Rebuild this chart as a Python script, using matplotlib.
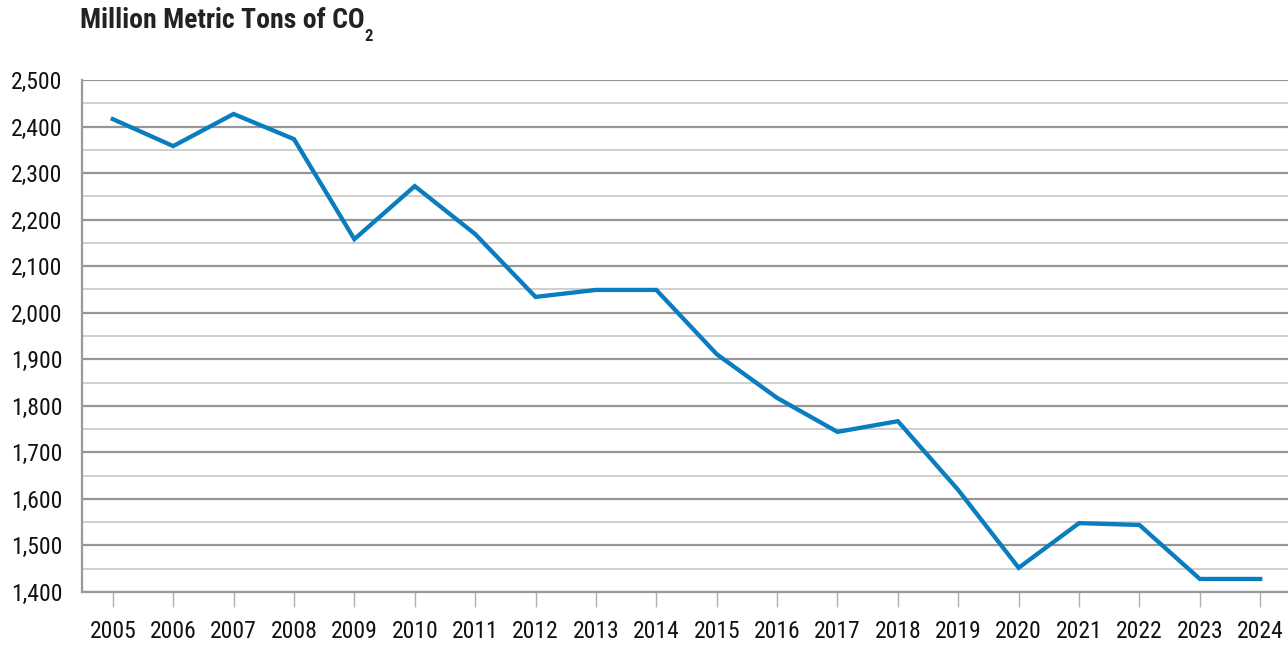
import matplotlib
matplotlib.use("Agg")
import matplotlib.pyplot as plt
from matplotlib.ticker import MultipleLocator, FuncFormatter

years = [str(y) for y in range(2005, 2025)]
emissions = [2416, 2358, 2427, 2373, 2158, 2272, 2169, 2034, 2049, 2049,
             1911, 1817, 1744, 1767, 1619, 1452, 1548, 1544, 1428, 1428]

fam = ['Roboto Condensed', 'Liberation Sans', 'DejaVu Sans']
plt.rcParams['font.family'] = fam

fig = plt.figure(figsize=(12.88, 6.49), dpi=100)
ax = fig.add_axes([82/1288, 1-592/649, (1288-82)/1288, 512/649])

x = list(range(len(years)))
ax.plot(x, emissions, color='#0A7DBF', lw=3.1, solid_joinstyle='miter', zorder=3)

ax.set_ylim(1400, 2500)
ax.set_xlim(-0.51, 19.46)
ax.yaxis.set_major_locator(MultipleLocator(100))
ax.yaxis.set_minor_locator(MultipleLocator(50))
ax.yaxis.set_major_formatter(FuncFormatter(lambda v, p: f"{int(v):,}"))
ax.grid(True, which='major', axis='y', color='#969696', lw=1.6)
ax.grid(True, which='minor', axis='y', color='#c2c2c2', lw=1.1)
ax.set_axisbelow(True)
ax.set_xticks(x)
ax.set_xticklabels(years)
ax.tick_params(axis='x', length=10.5, width=1, color='#b0b0b0', pad=10, labelsize=17, labelcolor='#111111')
ax.tick_params(axis='y', which='both', length=0, pad=14, labelsize=17, labelcolor='#111111')
for s in ['top', 'right']:
    ax.spines[s].set_visible(False)
for s in ['left', 'bottom']:
    ax.spines[s].set_color('#999999')
    ax.spines[s].set_linewidth(1.6)

title = fig.text(80/1288, 1-28/649, "Million Metric Tons of CO",
                 fontsize=20, fontweight='bold', color='#222222', ha='left', va='baseline')
ax.annotate("2", xy=(1, 0), xycoords=title, xytext=(0, -5), textcoords='offset points',
            fontsize=12, fontweight='bold', color='#222222', ha='left', va='baseline',
            annotation_clip=False)

fig.savefig("out.png", dpi=100, facecolor='white')
